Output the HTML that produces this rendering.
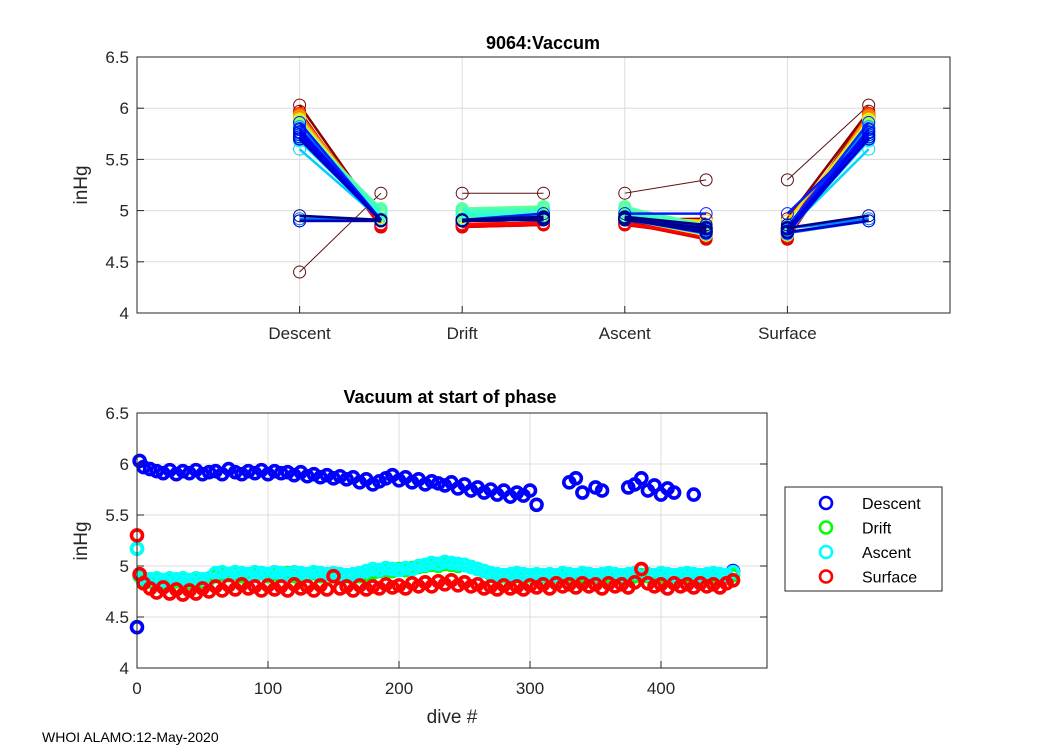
<!DOCTYPE html>
<html><head><meta charset="utf-8"><style>
body{margin:0;background:#fff;font-family:"Liberation Sans",sans-serif}
svg text{font-family:"Liberation Sans",sans-serif}
</style></head><body>
<svg id="fig" width="1050" height="750" viewBox="0 0 1050 750">
<rect x="0" y="0" width="1050" height="750" fill="#fff"/>
<g id="topAx"></g>
<g id="botAx"></g>
<text x="42" y="742" font-size="14">WHOI ALAMO:12-May-2020</text>
</svg>
<script>
const dives=[0,2,5,10,15,20,25,30,35,40,45,50,55,60,65,70,75,80,85,90,95,100,105,110,115,120,125,130,135,140,145,150,155,160,165,170,175,180,185,190,195,200,205,210,215,220,225,230,235,240,245,250,255,260,265,270,275,280,285,290,295,300,305,310,315,320,325,330,335,340,345,350,355,360,365,370,375,380,385,390,395,400,405,410,415,420,425,430,435,440,445,450,455];
const descentVals=[4.40,6.03,5.97,5.95,5.93,5.91,5.94,5.90,5.93,5.91,5.94,5.90,5.92,5.93,5.90,5.95,5.92,5.90,5.93,5.91,5.94,5.90,5.93,5.91,5.92,5.89,5.92,5.88,5.90,5.87,5.89,5.86,5.88,5.85,5.87,5.82,5.85,5.80,5.83,5.86,5.89,5.84,5.87,5.82,5.85,5.80,5.83,5.81,5.79,5.82,5.76,5.80,5.74,5.77,5.72,5.75,5.70,5.74,5.68,5.72,5.69,5.74,5.60,null,null,null,4.90,5.82,5.86,5.72,4.92,5.77,5.74,4.90,null,null,5.77,5.80,5.86,5.74,5.79,5.70,5.76,5.72,null,null,5.70,4.90,null,null,null,null,4.95];
const driftVals=[5.17,4.90,4.86,4.85,4.87,4.84,4.86,4.85,4.87,4.84,4.86,4.85,4.87,4.90,4.92,4.91,4.93,4.90,4.92,4.91,4.93,4.90,4.92,4.91,4.93,4.90,4.92,4.91,4.93,4.90,4.92,4.90,4.91,4.90,4.91,4.90,4.91,4.93,4.95,4.96,4.95,4.97,4.96,4.98,4.99,5.00,5.01,5.00,5.02,5.01,5.00,5.01,4.99,4.97,4.95,4.92,4.91,4.90,4.91,4.90,4.91,4.90,4.91,4.90,4.91,4.90,4.91,4.90,4.91,4.90,4.91,4.90,4.91,4.90,4.91,4.90,4.91,4.90,4.91,4.90,4.91,4.90,4.91,4.90,4.91,4.90,4.91,4.90,4.91,4.90,4.91,4.90,4.91];
const ascentVals=[5.17,4.91,4.88,4.87,4.88,4.86,4.88,4.87,4.88,4.86,4.88,4.87,4.88,4.93,4.94,4.92,4.94,4.93,4.92,4.94,4.93,4.92,4.94,4.93,4.92,4.94,4.93,4.92,4.94,4.93,4.92,4.93,4.92,4.91,4.92,4.93,4.95,4.97,4.96,4.98,4.97,4.96,4.98,4.97,5.00,5.01,5.03,5.02,5.04,5.03,5.02,5.01,4.99,4.97,4.95,4.93,4.92,4.91,4.92,4.93,4.92,4.91,4.92,4.91,4.92,4.91,4.93,4.92,4.91,4.93,4.92,4.91,4.92,4.93,4.92,4.91,4.92,4.93,4.97,4.92,4.91,4.93,4.92,4.91,4.92,4.93,4.92,4.91,4.92,4.93,4.92,4.91,4.94];
const surfaceVals=[5.30,4.92,4.83,4.78,4.74,4.79,4.73,4.77,4.72,4.76,4.73,4.78,4.75,4.80,4.76,4.81,4.77,4.82,4.78,4.80,4.76,4.81,4.77,4.80,4.76,4.82,4.78,4.80,4.76,4.81,4.77,4.90,4.78,4.80,4.76,4.81,4.77,4.80,4.78,4.82,4.79,4.81,4.78,4.83,4.80,4.84,4.80,4.85,4.82,4.86,4.81,4.84,4.80,4.82,4.78,4.80,4.77,4.81,4.78,4.80,4.77,4.81,4.79,4.82,4.78,4.83,4.80,4.82,4.79,4.83,4.80,4.82,4.78,4.83,4.80,4.82,4.79,4.84,4.97,4.83,4.80,4.82,4.78,4.83,4.80,4.82,4.79,4.83,4.80,4.82,4.79,4.83,4.86];
const yTicks=[4,4.5,5,5.5,6,6.5];
const yTickLabels=['4','4.5','5','5.5','6','6.5'];
const phaseLabels=['Descent','Drift','Ascent','Surface'];
const diveTicks=[0,100,200,300,400];
const legendLabels=['Descent','Drift','Ascent','Surface'];
const legendColors=['#0000ff','#00ff00','#00ffff','#ff0000'];

const NS='http://www.w3.org/2000/svg';
function mk(p,t,a){const e=document.createElementNS(NS,t);for(const k in a)e.setAttribute(k,a[k]);p.appendChild(e);return e;}
function jet(v){const r=Math.min(Math.max(Math.min(4*v-1.5,-4*v+4.5),0),1),g=Math.min(Math.max(Math.min(4*v-0.5,-4*v+3.5),0),1),b=Math.min(Math.max(Math.min(4*v+0.5,-4*v+2.5),0),1);return `rgb(${Math.round(r*255)},${Math.round(g*255)},${Math.round(b*255)})`;}

// TOP
const topG=document.getElementById('topAx');
const TX0=137,TX1=950,TY0=57,TY1=313;
const tx=k=>TX0+(TX1-TX0)*k/10;
const ty=v=>TY1-(v-4)/2.5*(TY1-TY0);
for(const v of yTicks){const l=mk(topG,'line',{x1:TX0,x2:TX1,y1:ty(v),y2:ty(v),stroke:'#dcdcdc','stroke-width':1});}
phaseLabels.forEach((p,i)=>{const l=mk(topG,'line',{x1:tx(2+2*i),x2:tx(2+2*i),y1:TY0,y2:TY1,stroke:'#dcdcdc','stroke-width':1});});
const N=dives.length;
for(let i=0;i<N;i++){
  const nextD=i+1<N?descentVals[i+1]:null;
  const vals=[descentVals[i],driftVals[i],driftVals[i],ascentVals[i],ascentVals[i],surfaceVals[i],surfaceVals[i],nextD];
  const c=i===0?'#5a1010':jet(1-i/(N-1));
  const g=mk(topG,'g',{});
  
  
  for(let s=0;s<4;s++){
    const a=vals[2*s],b=vals[2*s+1];
    if(a!=null&&b!=null)mk(g,'line',{x1:tx(2+2*s),y1:ty(a),x2:tx(3+2*s),y2:ty(b),stroke:c,'stroke-width':i===0?1:2.5});
  }
  vals.forEach((v,k)=>{if(v!=null)mk(g,'circle',{cx:tx(2+k),cy:ty(v),r:6,fill:'none',stroke:c,'stroke-width':1});});
}
mk(topG,'rect',{x:TX0,y:TY0,width:TX1-TX0,height:TY1-TY0,fill:'none',stroke:'#262626','stroke-width':1});
yTicks.forEach((v,i)=>{mk(topG,'line',{x1:TX0,x2:TX0+7,y1:ty(v),y2:ty(v),stroke:'#262626'});mk(topG,'line',{x1:TX1,x2:TX1-7,y1:ty(v),y2:ty(v),stroke:'#262626'});
 const t=mk(topG,'text',{x:TX0-8,y:ty(v)+6,'text-anchor':'end','font-size':17,fill:'#262626'});t.textContent=yTickLabels[i];});
phaseLabels.forEach((p,i)=>{mk(topG,'line',{x1:tx(2+2*i),x2:tx(2+2*i),y1:TY1,y2:TY1-7,stroke:'#262626'});
 const t=mk(topG,'text',{x:tx(2+2*i),y:TY1+26,'text-anchor':'middle','font-size':17,fill:'#262626'});t.textContent=p;});
let tl=mk(topG,'text',{x:543,y:49,'text-anchor':'middle','font-size':18,'font-weight':'bold',fill:'#000'});tl.textContent='9064:Vaccum';
tl=mk(topG,'text',{x:0,y:0,transform:`translate(87,185) rotate(-90)`,'text-anchor':'middle','font-size':19,fill:'#262626'});tl.textContent='inHg';

// BOTTOM
const botG=document.getElementById('botAx');
const BX0=137,BX1=767,BY0=413,BY1=668;
const bx=d=>BX0+d*1.31;
const by=v=>BY1-(v-4)/2.5*(BY1-BY0);
for(const v of yTicks){const l=mk(botG,'line',{x1:BX0,x2:BX1,y1:by(v),y2:by(v),stroke:'#dcdcdc'});}
for(const d of diveTicks){const l=mk(botG,'line',{x1:bx(d),x2:bx(d),y1:BY0,y2:BY1,stroke:'#dcdcdc'});}
const series=[descentVals,driftVals,ascentVals,surfaceVals];
series.forEach((arr,si)=>{
  const g=mk(botG,'g',{});
  
  
  arr.forEach((v,i)=>{if(v!=null)mk(g,'circle',{cx:bx(dives[i]),cy:by(v),r:5.5,fill:'none',stroke:legendColors[si],'stroke-width':3.6});});
});
mk(botG,'rect',{x:BX0,y:BY0,width:BX1-BX0,height:BY1-BY0,fill:'none',stroke:'#262626'});
yTicks.forEach((v,i)=>{mk(botG,'line',{x1:BX0,x2:BX0+7,y1:by(v),y2:by(v),stroke:'#262626'});mk(botG,'line',{x1:BX1,x2:BX1-7,y1:by(v),y2:by(v),stroke:'#262626'});
 const t=mk(botG,'text',{x:BX0-8,y:by(v)+6,'text-anchor':'end','font-size':17,fill:'#262626'});t.textContent=yTickLabels[i];});
diveTicks.forEach(d=>{mk(botG,'line',{x1:bx(d),x2:bx(d),y1:BY1,y2:BY1-7,stroke:'#262626'});
 const t=mk(botG,'text',{x:bx(d),y:BY1+26,'text-anchor':'middle','font-size':17,fill:'#262626'});t.textContent=String(d);});
tl=mk(botG,'text',{x:450,y:403,'text-anchor':'middle','font-size':18,'font-weight':'bold',fill:'#000'});tl.textContent='Vacuum at start of phase';
tl=mk(botG,'text',{x:0,y:0,transform:`translate(87,541) rotate(-90)`,'text-anchor':'middle','font-size':19,fill:'#262626'});tl.textContent='inHg';
tl=mk(botG,'text',{x:452,y:723,'text-anchor':'middle','font-size':19,fill:'#262626'});tl.textContent='dive #';
// legend
const lg=mk(botG,'g',{});


mk(lg,'rect',{x:785,y:487,width:157,height:104,fill:'#fff',stroke:'#262626'});
legendLabels.forEach((l,i)=>{const y=503+i*24.5;const e=mk(lg,'g',{});
 
 
 mk(e,'circle',{cx:826,cy:y,r:6,fill:'none',stroke:legendColors[i],'stroke-width':2.6});
 const tt=mk(e,'text',{x:862,y:y+6,'font-size':16,fill:'#000'});tt.textContent=l;});
</script>
</body></html>
